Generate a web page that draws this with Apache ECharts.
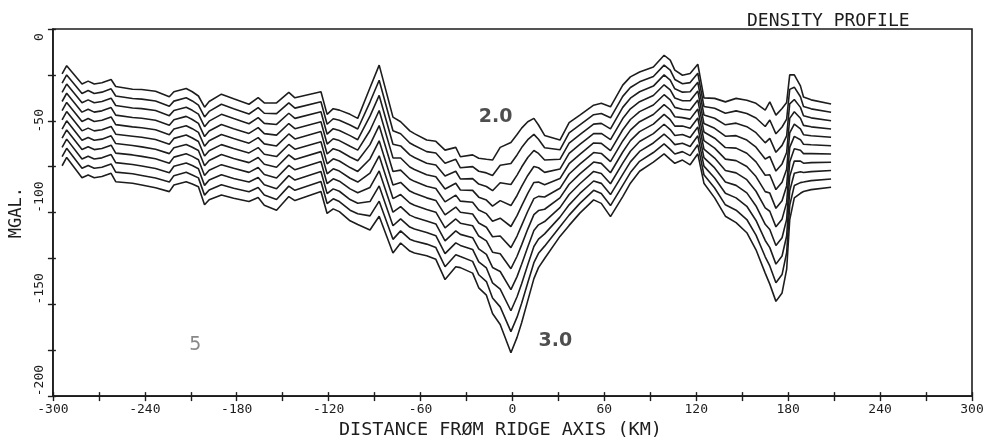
<!DOCTYPE html>
<html><head><meta charset="utf-8">
<script src="https://cdn.jsdelivr.net/npm/echarts/dist/echarts.min.js"></script>
<style>html,body{margin:0;padding:0;background:#fff}#chart{width:992px;height:445px}</style>
</head><body><div id="chart"></div>
<script>
// Distance from ridge axis (km) of the sampled profile points
const distanceKm = [-294,-291,-281,-277,-273,-268,-262,-259,-248,-242,-233,-224,-221,-213,-209,-205,-201,-198,-190,-182,-172,-166,-162,-154,-146,-142,-125,-121,-117,-113,-106,-101,-93,-87,-78,-73,-67,-64,-56,-50,-44,-37,-34,-26,-22,-17,-13,-8,-1,3,6,10,14,17,21,31,37,44,53,58,64,72,77,83,92,99,103,106,111,116,121,125,132,139,146,153,159,165,168,172,176,179,181,184,188,190,195,208];

// Gravity anomaly (mgal) for each assumed density
const d20 = [-24.5,-20,-30,-28.4,-30,-29.3,-27.5,-31.3,-32.8,-33,-33.9,-36.9,-34.2,-32.4,-34.2,-36.5,-42.6,-39.5,-35.5,-38,-41,-37.4,-40.3,-40.3,-34.5,-37.5,-34.2,-46.5,-43.4,-44.2,-46.5,-48.7,-32,-19.7,-48,-50.5,-55.5,-57,-60.5,-61.2,-66,-64.5,-69.6,-68.6,-70.4,-71,-71.4,-64.5,-61.8,-57.5,-54,-50.5,-48.7,-52.3,-58,-60.5,-51,-46.9,-41.5,-40.5,-42.4,-30.6,-26.1,-23.4,-20.7,-14.3,-17,-22.4,-25.2,-24.2,-19.2,-37.5,-37.8,-39.7,-37.8,-38.8,-40.5,-44.2,-39.7,-46.9,-43.3,-40,-25,-25,-31,-37,-38.6,-40.9];
const d21 = [-29.5,-25,-35.1,-33.5,-35.1,-34.4,-32.6,-36.5,-37.9,-38.2,-39.2,-42.1,-39.3,-37.5,-39.2,-41.5,-47.9,-44.9,-41.0,-43.4,-46.3,-42.8,-45.9,-46.1,-40.2,-43.1,-39.6,-51.9,-48.9,-49.7,-52.3,-54.5,-39.8,-27.9,-55.4,-57.1,-62.1,-63.5,-66.8,-67.6,-73.1,-71,-75.6,-75.0,-77.5,-78.4,-79.8,-74.2,-73.3,-68.6,-64.6,-60.3,-57.4,-60.1,-64.7,-65.8,-56.6,-52.2,-46.7,-46.0,-48.4,-36.7,-31.9,-28.8,-25.9,-19.7,-22.4,-27.5,-29.8,-29.2,-24.1,-42.2,-43.2,-45.9,-44.6,-46.0,-48.5,-53.1,-49.6,-57.1,-53.4,-49.1,-32.9,-31.7,-36.9,-42.2,-43.5,-45.4];
const d22 = [-34.5,-30,-40.2,-38.6,-40.2,-39.5,-37.7,-41.7,-43.0,-43.4,-44.4,-47.2,-44.4,-42.6,-44.3,-46.4,-53.2,-50.2,-46.5,-48.8,-51.6,-48.3,-51.4,-52.0,-45.9,-48.7,-45.1,-57.3,-54.3,-55.3,-58.1,-60.3,-47.5,-36.2,-62.8,-63.7,-68.6,-70,-73.1,-74.1,-80.1,-77.5,-81.7,-81.5,-84.5,-85.8,-88.1,-83.8,-84.7,-79.6,-75.2,-70.0,-66.2,-67.8,-71.4,-71,-62.2,-57.6,-51.8,-51.4,-54.4,-42.7,-37.7,-34.2,-31.1,-25.0,-27.8,-32.6,-34.4,-34.2,-29.0,-46.8,-48.6,-52.2,-51.3,-53.2,-56.5,-62.0,-59.6,-67.2,-63.4,-58.2,-40.8,-38.4,-42.7,-47.3,-48.4,-50.0];
const d23 = [-39.5,-35,-45.3,-43.7,-45.3,-44.6,-42.8,-46.9,-48.2,-48.6,-49.7,-52.4,-49.4,-47.6,-49.3,-51.4,-58.6,-55.6,-52.0,-54.3,-56.9,-53.7,-57.0,-57.8,-51.5,-54.3,-50.5,-62.7,-59.8,-60.8,-63.9,-66.0,-55.3,-44.4,-70.2,-70.3,-75.2,-76.5,-79.4,-80.5,-87.2,-84,-87.7,-87.9,-91.6,-93.2,-96.5,-93.5,-96.2,-90.7,-85.8,-79.8,-74.9,-75.6,-78.1,-76.3,-67.8,-62.9,-57.0,-56.9,-60.3,-48.8,-43.5,-39.6,-36.2,-30.4,-33.2,-37.6,-39.1,-39.1,-33.8,-51.5,-54.1,-58.4,-58.1,-60.5,-64.4,-70.8,-69.5,-77.4,-73.5,-67.3,-48.7,-45.1,-48.6,-52.5,-53.3,-54.5];
const d24 = [-44.5,-40,-50.4,-48.8,-50.4,-49.7,-47.9,-52.1,-53.3,-53.8,-54.9,-57.6,-54.5,-52.7,-54.3,-56.3,-63.9,-60.9,-57.5,-59.7,-62.2,-59.2,-62.6,-63.7,-57.2,-59.9,-55.9,-68.1,-65.2,-66.3,-69.7,-71.8,-63.0,-52.6,-77.6,-76.9,-81.7,-83,-85.7,-86.9,-94.2,-90.5,-93.8,-94.4,-98.6,-100.6,-104.8,-103.1,-107.6,-101.7,-96.4,-89.5,-83.6,-83.4,-84.8,-81.5,-73.4,-68.3,-62.1,-62.3,-66.3,-54.9,-49.3,-45.0,-41.4,-35.8,-38.6,-42.7,-43.7,-44.1,-38.7,-56.1,-59.5,-64.6,-64.9,-67.7,-72.4,-79.7,-79.4,-87.5,-83.5,-76.4,-56.6,-51.8,-54.4,-57.6,-58.2,-59.0];
const d25 = [-49.5,-45,-55.5,-54.0,-55.5,-54.9,-53.1,-57.3,-58.4,-59,-60.2,-62.8,-59.6,-57.8,-59.4,-61.3,-69.2,-66.3,-63.0,-65.1,-67.5,-64.6,-68.2,-69.5,-62.9,-65.5,-61.4,-73.5,-70.7,-71.9,-75.5,-77.6,-70.8,-60.9,-85,-83.6,-88.3,-89.5,-92,-93.4,-101.3,-97,-99.8,-100.8,-105.7,-108,-113.2,-112.8,-119.1,-112.8,-107,-99.3,-92.4,-91.2,-91.5,-86.8,-79,-73.6,-67.3,-67.8,-72.3,-61.0,-55.1,-50.5,-46.6,-41.2,-44,-47.8,-48.3,-49.1,-43.6,-60.8,-64.9,-70.9,-71.7,-74.9,-80.4,-88.6,-89.4,-97.7,-93.6,-85.5,-64.5,-58.5,-60.3,-62.8,-63.1,-63.6];
const d26 = [-54.5,-50,-60.6,-59.1,-60.6,-60.0,-58.2,-62.4,-63.5,-64.2,-65.5,-67.9,-64.7,-62.9,-64.4,-66.2,-74.5,-71.6,-68.4,-70.5,-72.8,-70.0,-73.7,-75.3,-68.6,-71.1,-66.8,-78.9,-76.2,-77.4,-81.3,-83.4,-78.5,-69.1,-92.4,-90.2,-94.8,-96,-98.3,-99.8,-108.3,-103.5,-105.8,-107.2,-112.8,-115.4,-121.6,-122.4,-130.6,-123.8,-117.6,-109.0,-101.1,-98.9,-98.2,-92,-84.6,-78.9,-72.5,-73.2,-78.3,-67.0,-60.8,-55.9,-51.8,-46.5,-49.4,-52.9,-52.9,-54.1,-48.5,-65.4,-70.3,-77.1,-78.4,-82.1,-88.4,-97.5,-99.3,-107.8,-103.6,-94.6,-72.4,-65.2,-66.1,-67.9,-67.9,-68.1];
const d27 = [-59.5,-55,-65.7,-64.2,-65.7,-65.1,-63.3,-67.6,-68.6,-69.4,-70.7,-73.1,-69.8,-68.0,-69.4,-71.2,-79.8,-77.0,-73.9,-75.9,-78.1,-75.5,-79.3,-81.2,-74.3,-76.7,-72.2,-84.3,-81.6,-82.9,-87.1,-89.2,-86.3,-77.3,-99.8,-96.8,-101.4,-102.5,-104.6,-106.2,-115.4,-110,-111.9,-113.7,-119.8,-122.8,-129.9,-132.1,-142.0,-134.9,-128.2,-118.8,-109.8,-106.7,-104.9,-97.3,-90.2,-84.3,-77.6,-78.7,-84.3,-73.1,-66.6,-61.3,-57.0,-51.9,-54.8,-58.0,-57.5,-59.1,-53.4,-70.1,-75.7,-83.3,-85.2,-89.3,-96.4,-106.4,-109.2,-118.0,-113.7,-103.7,-80.3,-71.9,-72.0,-73.1,-72.8,-72.6];
const d28 = [-64.5,-60,-70.8,-69.3,-70.8,-70.2,-68.4,-72.8,-73.8,-74.6,-76.0,-78.3,-74.8,-73.0,-74.4,-76.1,-85.2,-82.3,-79.4,-81.4,-83.4,-80.9,-84.9,-87.0,-79.9,-82.3,-77.6,-89.7,-87.1,-88.4,-92.9,-94.9,-94.0,-85.5,-107.2,-103.4,-107.9,-109,-110.9,-112.6,-122.4,-116.5,-117.9,-120.1,-126.9,-130.2,-138.3,-141.7,-153.5,-145.9,-138.8,-128.5,-118.5,-114.5,-111.6,-102.5,-95.8,-89.6,-82.8,-84.1,-90.2,-79.2,-72.4,-66.7,-62.1,-57.3,-60.2,-63.0,-62.2,-64.0,-58.2,-74.7,-81.2,-89.5,-92.0,-96.6,-104.3,-115.2,-119.1,-128.1,-123.7,-112.8,-88.2,-78.6,-77.8,-78.2,-77.7,-77.1];
const d29 = [-69.5,-65,-75.9,-74.4,-75.9,-75.3,-73.5,-78.0,-78.9,-79.8,-81.2,-83.4,-79.9,-78.1,-79.5,-81.1,-90.5,-87.7,-84.9,-86.8,-88.7,-86.4,-90.4,-92.9,-85.6,-87.9,-83.1,-95.1,-92.5,-94.0,-98.7,-100.7,-101.8,-93.8,-114.6,-110.0,-114.5,-115.5,-117.2,-119.1,-129.5,-123,-124.0,-126.6,-133.9,-137.6,-146.6,-151.4,-164.9,-157.0,-149.4,-138.3,-127.3,-122.2,-118.3,-107.8,-101.4,-95.0,-87.9,-89.6,-96.2,-85.2,-78.2,-72.1,-67.3,-62.6,-65.6,-68.1,-66.8,-69.0,-63.1,-79.4,-86.6,-95.8,-98.7,-103.8,-112.3,-124.1,-129.1,-138.3,-133.8,-121.9,-96.1,-85.3,-83.7,-83.4,-82.6,-81.7];
const d30 = [-74.5,-70,-81,-79.5,-81,-80.4,-78.6,-83.2,-84,-85,-86.5,-88.6,-85,-83.2,-84.5,-86,-95.8,-93,-90.4,-92.2,-94,-91.8,-96,-98.7,-91.3,-93.5,-88.5,-100.5,-98,-99.5,-104.5,-106.5,-109.5,-102,-122,-116.6,-121,-122,-123.5,-125.5,-136.5,-129.5,-130,-133,-141,-145,-155,-161,-176.4,-168,-160,-148,-136,-130,-125,-113,-107,-100.3,-93.1,-95,-102.2,-91.3,-84,-77.5,-72.5,-68,-71,-73.2,-71.4,-74,-68,-84,-92,-102,-105.5,-111,-120.3,-133,-139,-148.4,-143.8,-131,-104,-92,-89.5,-88.5,-87.5,-86.2];

const densityLabels = ['2.0','2.1','2.2','2.3','2.4','2.5','2.6','2.7','2.8','2.9','3.0'];
const profiles = [d20,d21,d22,d23,d24,d25,d26,d27,d28,d29,d30];

const xTickLabels = [-300,-240,-180,-120,-60,0,60,120,180,240,300];
const yTickLabels = [0,-50,-100,-150,-200];

// In-plot annotations (text and their data-space anchor)
const noteTexts = ['2.0','3.0','5'];
const noteKm = [-11, 28, -207];
const noteMgal = [-48, -170, -172];

const INK = '#1d1d1d';
const MONO = "'DejaVu Sans Mono', monospace";

const chart = echarts.init(document.getElementById('chart'), null, {renderer: 'canvas'});

const lineSeries = profiles.map((arr, k) => ({
  name: densityLabels[k],
  type: 'line',
  data: distanceKm.map((x, i) => [x, arr[i]]),
  symbol: 'none',
  showSymbol: false,
  smooth: false,
  silent: true,
  lineStyle: {color: INK, width: 1.6},
  z: 3
}));

const noteSeries = {
  type: 'scatter',
  silent: true,
  symbolSize: 1,
  itemStyle: {color: 'rgba(0,0,0,0)'},
  z: 5,
  data: noteTexts.map((t, i) => ({
    value: [noteKm[i], noteMgal[i]],
    name: t,
    label: i === 2
      ? {fontFamily: "'DejaVu Sans', sans-serif", fontSize: 19, fontWeight: 'normal', color: '#6a6a6a'}
      : {fontFamily: "'DejaVu Sans', sans-serif", fontSize: 19, fontWeight: 'bold', color: '#222'}
  })),
  label: {show: true, position: 'inside', formatter: p => p.name}
};

const yLabelFont = {fontFamily: MONO, fontSize: 13, color: INK};

const option = {
  animation: false,
  backgroundColor: '#fff',
  title: {
    text: 'DENSITY PROFILE',
    left: 742, top: 7,
    textStyle: {fontFamily: MONO, fontSize: 18, fontWeight: 'normal', color: INK}
  },
  grid: {left: 52, right: 20, top: 29, bottom: 48, show: true, borderColor: INK, borderWidth: 1.6, backgroundColor: 'transparent'},
  xAxis: [
    {
      type: 'value', min: -300, max: 300, interval: 30, position: 'bottom',
      axisLine: {show: true, onZero: false, lineStyle: {color: INK, width: 1.6}},
      axisTick: {show: true, inside: false, length: 5, lineStyle: {color: INK, width: 1.4}},
      axisLabel: {
        show: true, margin: 7, fontFamily: MONO, fontSize: 13, color: INK,
        showMinLabel: true, showMaxLabel: true, hideOverlap: false,
        formatter: v => xTickLabels.includes(v) ? String(v) : ''
      },
      splitLine: {show: false},
      name: 'DISTANCE FR\u00D8M RIDGE AXIS (KM)',
      nameLocation: 'middle', nameGap: 21,
      nameTextStyle: {fontFamily: MONO, fontSize: 18.5, color: INK, padding: [0, 24, 0, 0]}
    },
    {
      type: 'value', min: -300, max: 300, interval: 30, position: 'bottom',
      axisLine: {show: false, onZero: false},
      axisTick: {show: true, inside: true, length: 4, lineStyle: {color: INK, width: 1.4}},
      axisLabel: {show: false}, splitLine: {show: false}
    }
  ],
  yAxis: [
    {
      type: 'value', min: -200, max: 0, interval: 25, position: 'left',
      axisLine: {show: true, onZero: false, lineStyle: {color: INK, width: 1.6}},
      axisTick: {show: true, inside: false, length: 5, lineStyle: {color: INK, width: 1.4}},
      axisLabel: {
        show: true, rotate: 90, margin: 7, fontFamily: MONO, fontSize: 13, color: INK,
        align: 'center',
        showMinLabel: true, showMaxLabel: true, hideOverlap: false,
        formatter: v => {
          if (!yTickLabels.includes(v)) return '';
          if (v === 0) return '{z|0}';
          if (v === -50) return '{c|-50}';
          return '{s|' + v + '}';
        },
        rich: {
          z: Object.assign({padding: [0, 16, 0, 0]}, yLabelFont),
          c: Object.assign({}, yLabelFont),
          s: Object.assign({padding: [0, 0, 0, 31]}, yLabelFont)
        }
      },
      splitLine: {show: false},
      name: 'MGAL.', nameLocation: 'middle', nameGap: 26, nameRotate: 90,
      nameTextStyle: {fontFamily: MONO, fontSize: 17, color: INK}
    },
    {
      type: 'value', min: -200, max: 0, interval: 25, position: 'left',
      axisLine: {show: false, onZero: false},
      axisTick: {show: true, inside: true, length: 3, lineStyle: {color: INK, width: 1.4}},
      axisLabel: {show: false}, splitLine: {show: false}
    }
  ],
  series: [...lineSeries, noteSeries]
};

chart.setOption(option);
</script>
</body></html>
